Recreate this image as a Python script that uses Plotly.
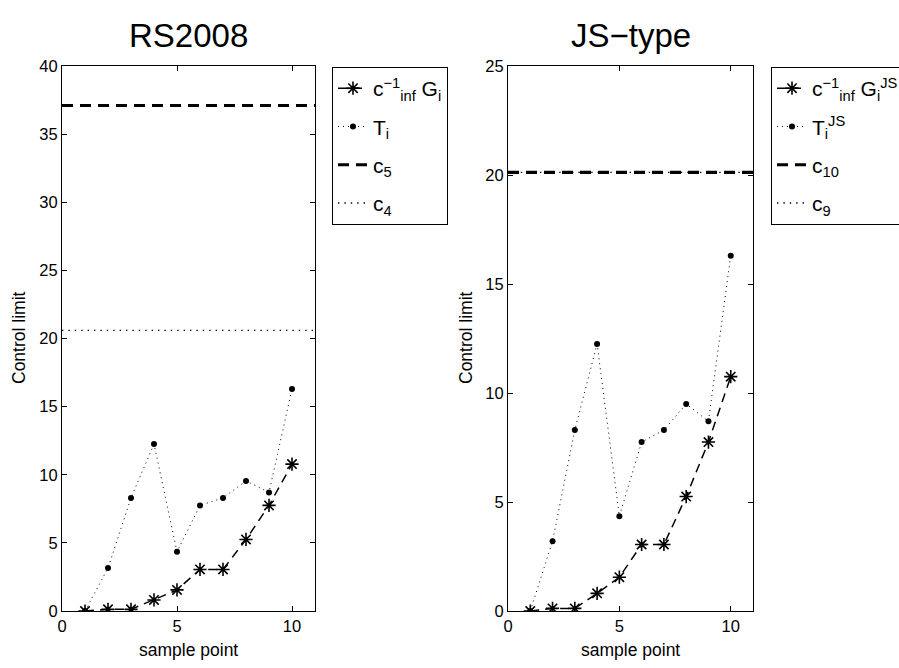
import plotly.graph_objects as go

# ---- data ----
sample_points = [1, 2, 3, 4, 5, 6, 7, 8, 9, 10]
G_scaled = [0.0, 0.12, 0.12, 0.81, 1.55, 3.05, 3.05, 5.25, 7.75, 10.78]
T_stat = [0.0, 3.15, 8.3, 12.25, 4.35, 7.75, 8.3, 9.55, 8.7, 16.3]
G_js_scaled = [0.0, 0.12, 0.12, 0.81, 1.55, 3.05, 3.05, 5.25, 7.75, 10.75]
T_js_stat = [0.0, 3.2, 8.3, 12.25, 4.35, 7.75, 8.3, 9.5, 8.7, 16.3]
c5 = 37.1
c4 = 20.6
c10 = 20.12
c9 = 20.12
x_span = [0, 11]
x_ticks = [0, 5, 10]
y_ticks_rs = [0, 5, 10, 15, 20, 25, 30, 35, 40]
y_ticks_js = [0, 5, 10, 15, 20, 25]

FONT = "Liberation Sans, Arial, sans-serif"

fig = go.Figure()

def add_panel(xa, ya, leg, G, T, c_hi, c_lo, names, tag):
    fig.add_trace(go.Scatter(
        x=sample_points, y=G, mode="lines+markers", name=names[0],
        xaxis=xa, yaxis=ya, legend=leg, legendgroup=tag + "G",
        line=dict(color="black", width=1.5, dash="9px,6px"),
        marker=dict(symbol="asterisk-open", size=11, color="black",
                    line=dict(color="black", width=1.6)),
    ))
    fig.add_trace(go.Scatter(
        x=sample_points, y=T, mode="lines+markers", name=names[1],
        xaxis=xa, yaxis=ya, legend=leg, legendgroup=tag + "T",
        line=dict(color="black", width=1, dash="1px,4px"),
        marker=dict(symbol="circle", size=6, color="black"),
    ))
    fig.add_trace(go.Scatter(
        x=x_span, y=[c_hi, c_hi], mode="lines", name=names[2],
        xaxis=xa, yaxis=ya, legend=leg, legendgroup=tag + "hi",
        line=dict(color="black", width=3.2, dash="11px,7px"),
    ))
    fig.add_trace(go.Scatter(
        x=x_span, y=[c_lo, c_lo], mode="lines", name=names[3],
        xaxis=xa, yaxis=ya, legend=leg, legendgroup=tag + "lo",
        line=dict(color="black", width=1.4, dash="1.4px,5px"),
    ))

add_panel("x", "y", "legend", G_scaled, T_stat, c5, c4,
          ["c<sup>−1</sup><sub>inf</sub> G<sub>i</sub>", "T<sub>i</sub>",
           "c<sub>5</sub>", "c<sub>4</sub>"], "rs")
add_panel("x2", "y2", "legend2", G_js_scaled, T_js_stat, c10, c9,
          ["c<sup>−1</sup><sub>inf</sub> G<sub>i</sub><sup>JS</sup>",
           "T<sub>i</sub><sup>JS</sup>", "c<sub>10</sub>", "c<sub>9</sub>"], "js")

axis_common = dict(showline=True, linecolor="black", linewidth=1,
                   mirror="allticks", ticks="inside", ticklen=5,
                   tickcolor="black", showgrid=False, zeroline=False,
                   automargin=False,
                   tickfont=dict(family=FONT, size=16.5, color="black"))

W, H = 899, 668
def dx(p): return p / W
def dy(p): return (H - p) / H

leg_common = dict(xanchor="left", yanchor="top",
                  bordercolor="black", borderwidth=1, bgcolor="white",
                  font=dict(family=FONT, size=21, color="black"),
                  tracegroupgap=8, itemwidth=30, groupclick="toggleitem")

def ann(text, x, y, size, angle=0):
    return dict(text=text, x=dx(x), y=dy(y), xref="paper", yref="paper",
                xanchor="center", yanchor="middle", textangle=angle,
                showarrow=False, font=dict(family=FONT, size=size, color="black"))

fig.update_layout(
    width=W, height=H, margin=dict(l=0, r=0, t=0, b=0, autoexpand=False),
    plot_bgcolor="white", paper_bgcolor="white",
    font=dict(family=FONT, color="black"),
    xaxis=dict(domain=[dx(62), dx(315)], range=[0, 11], tickvals=x_ticks,
               anchor="y", **axis_common),
    yaxis=dict(domain=[dy(611), dy(66)], range=[0, 40], tickvals=y_ticks_rs,
               anchor="x", **axis_common),
    xaxis2=dict(domain=[dx(508), dx(753)], range=[0, 11], tickvals=x_ticks,
                anchor="y2", **axis_common),
    yaxis2=dict(domain=[dy(611), dy(66)], range=[0, 25], tickvals=y_ticks_js,
                anchor="x2", **axis_common),
    legend=dict(x=dx(332), y=dy(67), **leg_common),
    legend2=dict(x=dx(771), y=dy(67), **leg_common),
    annotations=[
        ann("RS2008", 188.5, 36, 33),
        ann("JS−type", 630.5, 36, 33),
        ann("sample point", 188.5, 650, 17.5),
        ann("sample point", 630.5, 650, 17.5),
        ann("Control limit", 19, 338, 17.5, -90),
        ann("Control limit", 466, 338, 17.5, -90),
    ],
)

fig.write_html("out.html")
